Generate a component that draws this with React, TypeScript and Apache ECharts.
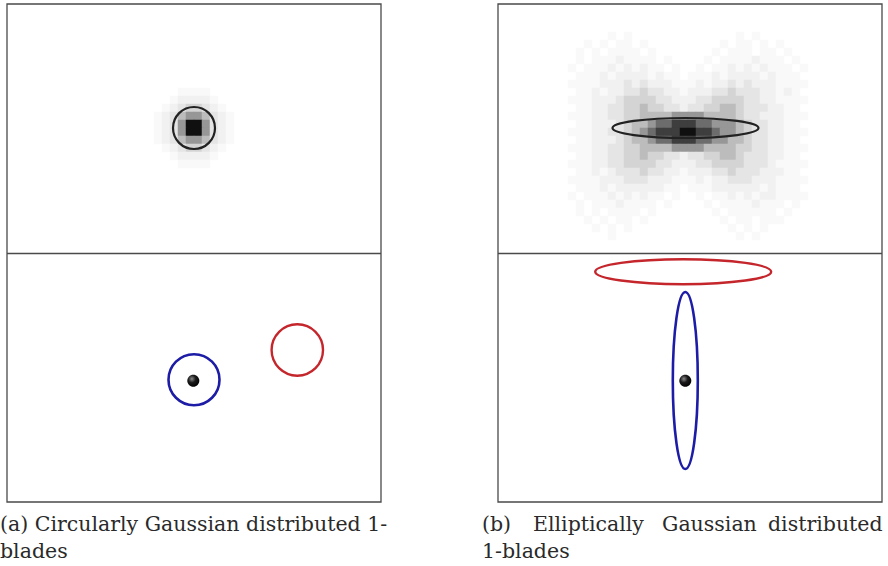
import React, { useEffect, useRef } from "react";
import * as echarts from "echarts";

// Gray levels 0 (white) .. 9 (near black) used by both histograms
const grayLevels = [
  "#ffffff", "#f9f9f9", "#f1f1f1", "#e5e5e5", "#d4d4d4",
  "#bcbcbc", "#979797", "#6c6c6c", "#3e3e3e", "#101010",
];

// (a) top: histogram of circularly distributed samples (rows top -> bottom)
const leftHeatRows = [
  "0001111000",
  "0012222100",
  "0123443210",
  "1235665321",
  "1236996321",
  "1236996321",
  "1235665321",
  "0123443210",
  "0012222100",
  "0001111000",
];

// (b) top: histogram of elliptically distributed samples (rows top -> bottom)
const rightHeatRows = [
  "0000000101000000000000010100000000",
  "0000101011010000000001011010100000",
  "0001010111101000000010111011010000",
  "0001011121111010000101111211101000",
  "0010111212121101001011212121110100",
  "0001112122221211011121222212111000",
  "0011112223232221112122323222111100",
  "0001121223343322122233433322121000",
  "0011122234444332223344443322111100",
  "0001122334454433233445543332211000",
  "0011122334455556666555543322211100",
  "0001122234556778887766654332211000",
  "0011122334567888998876654332211100",
  "0001122234556778887766554332211000",
  "0011122334455556666555544332211100",
  "0001122334454433233445543332211000",
  "0011122334444332223344443332111100",
  "0001121233343322122233433322211000",
  "0011112223332221112122333222111100",
  "0001112122222211011122222212111000",
  "0010111212121101001011212122111100",
  "0001011121111010000101111211101000",
  "0001010111101000000010111111010000",
  "0000101011010000000001011011100000",
  "0000010101000000000000101010000000",
  "0000000100000000000000010100000000",
];

// Shapes: [centerX, centerY, radiusX, radiusY] in panel units
const leftTopCircle = [[0.0, 1.25, 0.21, 0.21]];
const leftBlueCircle = [[0.0, -1.267, 0.255, 0.255]];
const leftRedCircle = [[1.033, -0.97, 0.257, 0.257]];
const leftDot = [[-0.007, -1.277, 0.06, 0.06]];
const rightBlackEllipse = [[-0.045, 1.25, 0.73, 0.1]];
const rightRedEllipse = [[-0.068, -0.187, 0.88, 0.125]];
const rightBlueEllipse = [[-0.047, -1.275, 0.125, 0.885]];
const rightDot = [[-0.047, -1.277, 0.06, 0.06]];

const leftXRange = [-1.87, 1.87];
const rightXRange = [-1.92, 1.92];
const yRange = [-2.49, 2.49];

const captionA = ["(a) Circularly Gaussian distributed 1-", "blades"];
const captionBWords = ["(b)", "Elliptically", "Gaussian", "distributed"];
const captionBLine2 = "1-blades";

function heatData(rows: string[]) {
  const out: number[][] = [];
  rows.forEach((row, j) => {
    for (let i = 0; i < row.length; i++) {
      const v = Number(row[i]);
      if (v > 0) out.push([i, j, v]);
    }
  });
  return out;
}

function range(n: number) {
  return Array.from({ length: n }, (_, i) => String(i));
}

function shapeSeries(axis: number, data: number[][], stroke: string | null, width: number, fill: any, withDivider = false) {
  const s: any = {
    type: "custom",
    coordinateSystem: "cartesian2d",
    xAxisIndex: axis,
    yAxisIndex: axis,
    z: 5,
    silent: true,
    clip: false,
    data,
    renderItem: (_p: any, api: any) => {
      const c = api.coord([api.value(0), api.value(1)]);
      const sz = api.size([api.value(2), api.value(3)]);
      return {
        type: "ellipse",
        shape: { cx: c[0], cy: c[1], rx: sz[0], ry: sz[1] },
        style: {
          fill: fill || "none",
          stroke: stroke || "none",
          lineWidth: width,
        },
      };
    },
  };
  if (withDivider) {
    s.markLine = {
      silent: true,
      symbol: "none",
      label: { show: false },
      lineStyle: { color: "#4a4a4a", width: 1.3, type: "solid" },
      data: [{ yAxis: 0 }],
    };
  }
  return s;
}

const dotFill = {
  type: "radial",
  x: 0.38,
  y: 0.35,
  r: 0.7,
  colorStops: [
    { offset: 0, color: "#8a8a8a" },
    { offset: 0.45, color: "#1a1a1a" },
    { offset: 1, color: "#000000" },
  ],
};

export default function App() {
  const ref = useRef<HTMLDivElement>(null);
  useEffect(() => {
    if (!ref.current) return;
    const chart = echarts.init(ref.current, undefined, { renderer: "svg" });
    const blue = "#1c1ca6";
    const red = "#c4262c";
    const capFont = '20.5px "DejaVu Serif"';
    const capColor = "#2a2a2a";
    const wordX = [482, 533, 662, 768];

    const option: any = {
      animation: false,
      backgroundColor: "#ffffff",
      grid: [
        { left: 7, top: 4, width: 374, height: 498, show: true, borderColor: "#4a4a4a", borderWidth: 1.3, backgroundColor: "transparent" },
        { left: 498, top: 4, width: 384, height: 498, show: true, borderColor: "#4a4a4a", borderWidth: 1.3, backgroundColor: "transparent" },
        { left: 154, top: 88, width: 80, height: 80, show: false },
        { left: 552, top: 32, width: 272, height: 208, show: false },
      ],
      xAxis: [
        { type: "value", gridIndex: 0, min: leftXRange[0], max: leftXRange[1], show: false },
        { type: "value", gridIndex: 1, min: rightXRange[0], max: rightXRange[1], show: false },
        { type: "category", gridIndex: 2, data: range(leftHeatRows[0].length), show: false },
        { type: "category", gridIndex: 3, data: range(rightHeatRows[0].length), show: false },
      ],
      yAxis: [
        { type: "value", gridIndex: 0, min: yRange[0], max: yRange[1], show: false },
        { type: "value", gridIndex: 1, min: yRange[0], max: yRange[1], show: false },
        { type: "category", gridIndex: 2, data: range(leftHeatRows.length), inverse: true, show: false },
        { type: "category", gridIndex: 3, data: range(rightHeatRows.length), inverse: true, show: false },
      ],
      visualMap: {
        type: "continuous",
        show: false,
        min: 0,
        max: 9,
        seriesIndex: [0, 1],
        inRange: { color: grayLevels },
      },
      series: [
        { type: "heatmap", xAxisIndex: 2, yAxisIndex: 2, data: heatData(leftHeatRows), z: 1, silent: true, itemStyle: { borderWidth: 0 } },
        { type: "heatmap", xAxisIndex: 3, yAxisIndex: 3, data: heatData(rightHeatRows), z: 1, silent: true, itemStyle: { borderWidth: 0 } },
        shapeSeries(0, leftTopCircle, "#222222", 2.2, null, true),
        shapeSeries(0, leftBlueCircle, blue, 2.6, null),
        shapeSeries(0, leftRedCircle, red, 2.4, null),
        shapeSeries(0, leftDot, null, 0, dotFill),
        shapeSeries(1, rightBlackEllipse, "#222222", 2.2, null, true),
        shapeSeries(1, rightRedEllipse, red, 2.4, null),
        shapeSeries(1, rightBlueEllipse, blue, 2.6, null),
        shapeSeries(1, rightDot, null, 0, dotFill),
      ],
      graphic: [
        { type: "text", x: 0, y: 513, style: { text: captionA[0], font: capFont, fill: capColor, verticalAlign: "top" } },
        { type: "text", x: 0, y: 540, style: { text: captionA[1], font: capFont, fill: capColor, verticalAlign: "top" } },
        ...captionBWords.map((w, k) => ({
          type: "text", x: wordX[k], y: 513, style: { text: w, font: capFont, fill: capColor, verticalAlign: "top" },
        })),
        { type: "text", x: 482, y: 540, style: { text: captionBLine2, font: capFont, fill: capColor, verticalAlign: "top" } },
      ],
    };
    chart.setOption(option);
    return () => chart.dispose();
  }, []);
  return <div ref={ref} style={{ position: "fixed", left: 0, top: 0, width: 888, height: 566 }} />;
}
